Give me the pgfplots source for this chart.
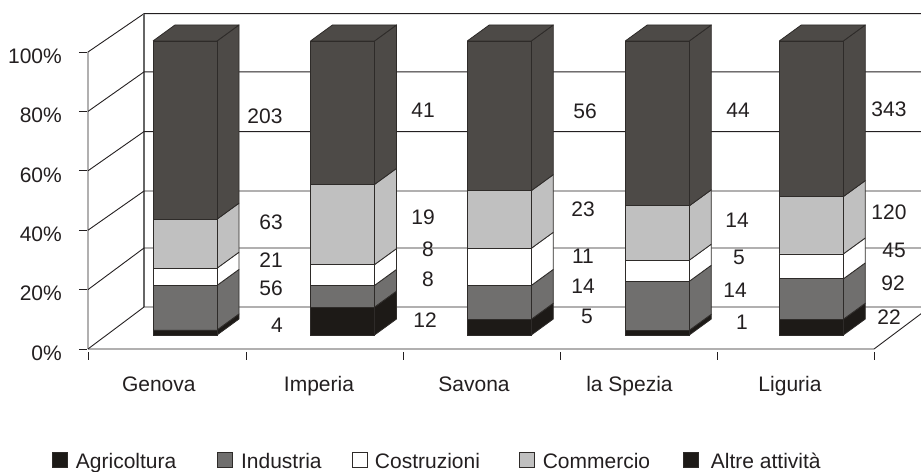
\documentclass[border=0pt]{standalone}
\usepackage{fontspec}
\setmainfont{Liberation Sans}
\usepackage{pgfplots}
\usepackage{pgfplotstable}
\pgfplotsset{compat=1.18}
\definecolor{ink}{HTML}{231F20}
\definecolor{edge}{HTML}{2E2B29}
\definecolor{cA}{HTML}{1D1A17}
\definecolor{cB}{HTML}{706F6E}
\definecolor{cC}{HTML}{FFFFFF}
\definecolor{cD}{HTML}{C0C0C0}
\definecolor{cE}{HTML}{4D4A47}
\pgfplotstableread{
x base a b c d e
185.0 4.71 1.7 15.0 5.8 16.5 60.0
342.5 4.71 9.4 7.3 7.0 27.0 48.3
499.3 4.71 5.3 11.4 12.5 19.4 50.4
657.3 4.71 1.6 16.5 7.1 18.3 55.5
811.3 4.71 5.3 13.6 8.4 19.3 52.4
}\data
\newcommand\face[3]{%
 \pgfmathsetmacro\xb{\xr+22}\pgfmathsetmacro\la{#1+5.39}\pgfmathsetmacro\ha{#2+5.39}%
 \edef\temp{\noexpand\addplot[fill=#3,draw=edge,line width=0.8bp,line join=round,forget plot] coordinates {(\xr,#1)(\xb,\la)(\xb,\ha)(\xr,#2)(\xr,#1)};}\temp}
\newcommand\gridl[1]{\addplot[draw=ink,line width=0.9bp] coordinates {#1};}
\newcommand\lab[3]{\node[text=ink,inner sep=0pt] at (axis cs:#1,{(349-#2)/2.97}) {#3};}
\pgfplotsset{
 common/.style={scale only axis,width=834bp,height=340.07bp,at={(87bp,120.03bp)},anchor=south west,
   xmin=87,xmax=921,ymin=-1,ymax=113.5},
 sw/.style={legend image code/.code={\draw[##1,line width=0.8bp] (0bp,-5.5bp) rectangle (15bp,9.5bp);}},
 swblack/.style={legend image code/.code={\draw[##1,fill=cA,line width=0.8bp] (0bp,-5.5bp) rectangle (15bp,9.5bp);}},
}
\begin{document}
\fontsize{21bp}{24bp}\selectfont
\begin{tikzpicture}
\path[use as bounding box] (0,0) rectangle (921bp,472bp);
\begin{axis}[common,no marks,
  axis x line*=bottom,axis y line*=left,axis line style={draw=none},
  ytick={0,20,40,60,80,100},
  yticklabel={\pgfmathprintnumber{\tick}\%},
  /pgf/number format/assume math mode=true,
  xtick={158.8,319,474,629.5,790},
  xticklabels={Genova,Imperia,Savona,la Spezia,Liguria},
  minor xtick={88,246,403,560,717,874},
  tick align=outside,major tick length=8bp,minor tick length=8bp,
  y tick style={draw=ink,line width=0.9bp},
  minor x tick style={draw=ink,line width=0.9bp},
  major x tick style={draw=none},
  tick label style={font=\fontsize{21bp}{24bp}\selectfont,text=ink},
  typeset ticklabels with strut,
  yticklabel style={yshift=-4bp,xshift=-10bp},
  xticklabel style={yshift=-8bp},
]
% walls
\addplot[draw=ink,line width=0.9bp] coordinates {(88,0)(88,100)(144,112.9)(921,112.9)};
\addplot[draw=black!60,line width=1.1bp] coordinates {(144,14.14)(144,112.9)};
\gridl{(88,0)(874,0)(930,14.14)}
\gridl{(88,0)(144,14.14)(921,14.14)}
\gridl{(88,20)(144,34.0)(921,34.0)}
\gridl{(88,40)(144,53.2)(921,53.2)}
\gridl{(88,60)(144,73.2)(921,73.2)}
\gridl{(88,80)(144,93.3)(921,93.3)}
% side and top faces, from the table
\pgfplotsinvokeforeach{0,...,4}{
  \pgfplotstablegetelem{#1}{x}\of\data \pgfmathsetmacro\xr{\pgfplotsretval+32}
  \pgfplotstablegetelem{#1}{base}\of\data \pgfmathsetmacro\cz{\pgfplotsretval}
  \pgfplotstablegetelem{#1}{a}\of\data \pgfmathsetmacro\ca{\cz+\pgfplotsretval}
  \pgfplotstablegetelem{#1}{b}\of\data \pgfmathsetmacro\cb{\ca+\pgfplotsretval}
  \pgfplotstablegetelem{#1}{c}\of\data \pgfmathsetmacro\cc{\cb+\pgfplotsretval}
  \pgfplotstablegetelem{#1}{d}\of\data \pgfmathsetmacro\cd{\cc+\pgfplotsretval}
  \pgfplotstablegetelem{#1}{e}\of\data \pgfmathsetmacro\ce{\cd+\pgfplotsretval}
  \face{\cz}{\ca}{cA}
  \face{\ca}{\cb}{cB}
  \face{\cb}{\cc}{cC}
  \face{\cc}{\cd}{cD}
  \face{\cd}{\ce}{cE}
  \pgfmathsetmacro\xl{\xr-64}\pgfmathsetmacro\xlb{\xl+22}\pgfmathsetmacro\xrb{\xr+22}\pgfmathsetmacro\tb{\ce+5.39}
  \edef\temp{\noexpand\addplot[fill=cE,draw=edge,line width=0.8bp,line join=round,forget plot] coordinates {(\xl,\ce)(\xlb,\tb)(\xrb,\tb)(\xr,\ce)(\xl,\ce)};}\temp
}
\end{axis}
\begin{axis}[common,hide axis,ybar stacked,bar width=64bp,
  legend columns=5,
  legend style={draw=none,fill=none,inner sep=0pt,at={(-0.042,-0.3235)},anchor=west,
    font=\fontsize{21bp}{24bp}\selectfont,text=ink,
    /tikz/column 1/.style={column sep=6bp},
    /tikz/column 2/.style={column sep=39bp},
    /tikz/column 3/.style={column sep=6bp},
    /tikz/column 4/.style={column sep=28.5bp},
    /tikz/column 5/.style={column sep=5bp},
    /tikz/column 6/.style={column sep=37bp},
    /tikz/column 7/.style={column sep=6bp},
    /tikz/column 8/.style={column sep=31bp},
    /tikz/column 9/.style={column sep=10bp}},
]
\addplot[draw=none,fill=none,forget plot] table[x=x,y=base]{\data};
\addplot[fill=cA,draw=edge,line width=0.8bp,sw] table[x=x,y=a]{\data};
\addlegendentry{Agricoltura}
\addplot[fill=cB,draw=edge,line width=0.8bp,sw] table[x=x,y=b]{\data};
\addlegendentry{Industria}
\addplot[fill=cC,draw=edge,line width=0.8bp,sw] table[x=x,y=c]{\data};
\addlegendentry{Costruzioni}
\addplot[fill=cD,draw=edge,line width=0.8bp,sw] table[x=x,y=d]{\data};
\addlegendentry{Commercio}
\addplot[fill=cE,draw=edge,line width=0.8bp,swblack] table[x=x,y=e]{\data};
\addlegendentry{Altre attività}
\lab{265}{116}{203}\lab{271}{222.7}{63}\lab{271}{260}{21}\lab{271}{288}{56}\lab{277}{325}{4}
\lab{423}{110}{41}\lab{423}{217.7}{19}\lab{428}{249}{8}\lab{428}{279}{8}\lab{425}{320}{12}
\lab{585}{111}{56}\lab{583}{209}{23}\lab{583}{256.7}{11}\lab{583}{286.7}{14}\lab{587}{316.7}{5}
\lab{738}{110}{44}\lab{737}{220}{14}\lab{739}{257}{5}\lab{735}{290}{14}\lab{742}{322}{1}
\lab{889}{109}{343}\lab{889}{212}{120}\lab{894}{250}{45}\lab{893}{283}{92}\lab{889}{317}{22}
\end{axis}
\end{tikzpicture}
\end{document}
